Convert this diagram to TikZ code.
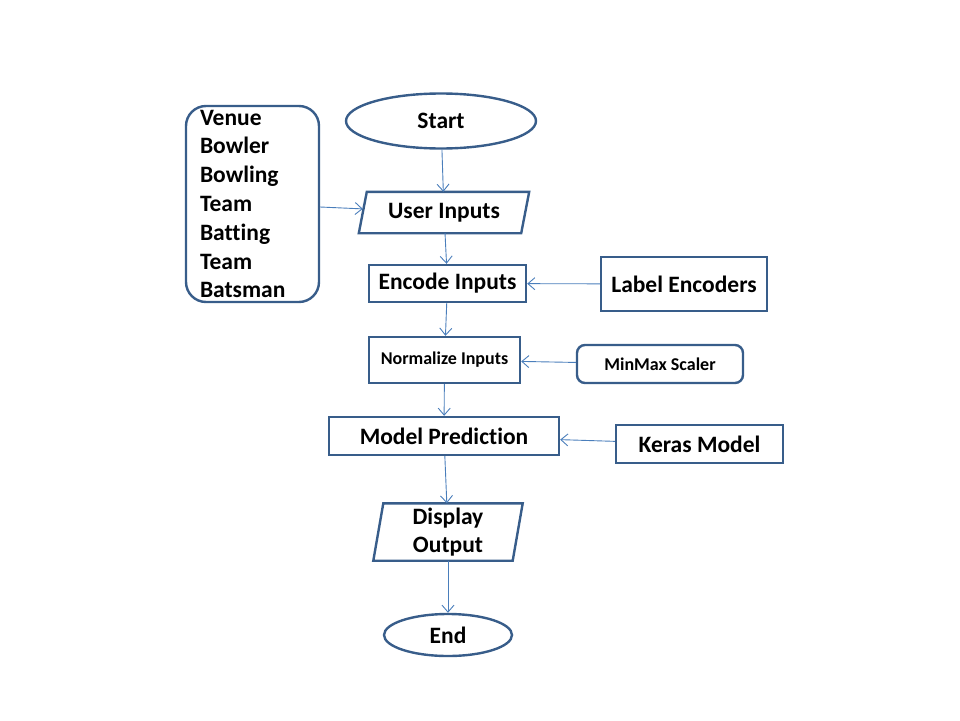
\documentclass[tikz,border=0pt]{standalone}
\usepackage{fontspec}
\setmainfont{Carlito}[Ligatures=NoCommon]
\usetikzlibrary{shapes,arrows,arrows.meta}

\definecolor{boxline}{RGB}{56,93,138}
\definecolor{arrowline}{RGB}{74,126,187}

\tikzset{
  shapeline/.style={draw=boxline, line width=2.4pt, font=\bfseries\fontsize{23.5}{28.8}\selectfont},
  terminal/.style={shapeline, shape=ellipse, inner sep=0pt},
  io/.style={shapeline, draw=none, shape=rectangle, inner sep=0pt, align=center},
  process/.style={shapeline, shape=rectangle, inner sep=0pt},
  source/.style={shapeline, shape=rectangle, rounded corners=8pt, inner sep=0pt},
  small/.style={font=\bfseries\fontsize{18}{22}\selectfont},
  flow/.style={draw=arrowline, line width=0.9pt, -{Straight Barb[length=7pt,width=12pt]}}
}

\begin{document}
\begin{tikzpicture}[x=1pt,y=-1pt]
\useasboundingbox (0,0) rectangle (960,720);

\node (start) at (441,121) [terminal, minimum width=190, minimum height=55] {Start};
\node (fields) at (252.5,204) [source, rounded corners=20pt, minimum width=133, minimum height=196, text width=105, align=left] {Venue\\Bowler\\Bowling\\Team\\Batting\\Team\\Batsman};
\node (userin) at (444,212.5) [io, minimum width=160, minimum height=39] {User Inputs};
\draw [shapeline] ([xshift=4]userin.north west) -- ([xshift=4]userin.north east)
  -- ([xshift=-4]userin.south east) -- ([xshift=-4]userin.south west) -- cycle;
\node (encode) at (447.5,283.5) [process, minimum width=157, minimum height=37] {Encode Inputs};
\node (labenc) at (684,284) [process, minimum width=166, minimum height=54] {Label Encoders};
\node (normal) at (444.5,360) [process, small, minimum width=151, minimum height=46] {Normalize Inputs};
\node (scaler) at (660,364) [source, small, minimum width=166, minimum height=38] {MinMax Scaler};
\node (model) at (444,436) [process, minimum width=230, minimum height=38] {Model Prediction};
\node (keras) at (699.5,444) [process, minimum width=167, minimum height=38] {Keras Model};
\node (output) at (448,532) [io, minimum width=137, minimum height=55] {Display\\Output};
\draw [shapeline] ([xshift=5]output.north west) -- ([xshift=5]output.north east)
  -- ([xshift=-5]output.south east) -- ([xshift=-5]output.south west) -- cycle;
\node (finish) at (448,635) [terminal, minimum width=128, minimum height=42] {End};

\draw [flow] (start) -- (userin);
\draw [flow] (fields) -- (userin);
\draw [flow] (userin) -- (encode);
\draw [flow] (labenc) -- (encode);
\draw [flow] (encode) -- (normal);
\draw [flow] (scaler) -- (normal);
\draw [flow] (normal) -- (model);
\draw [flow] (keras) -- (model);
\draw [flow] (model) -- (output);
\draw [flow] (output) -- (finish);
\end{tikzpicture}
\end{document}
